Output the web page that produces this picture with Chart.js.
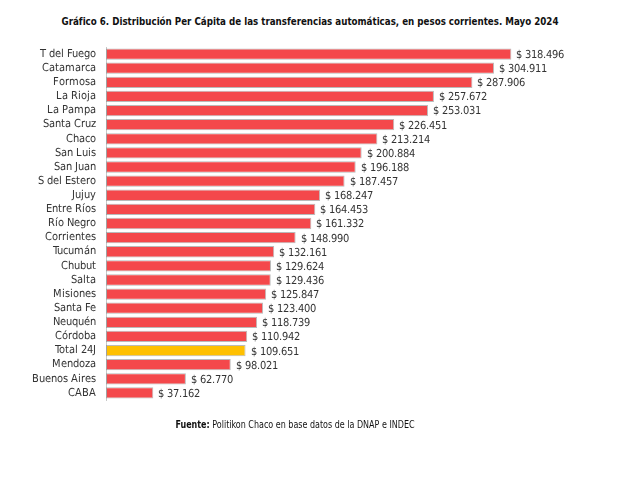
<!DOCTYPE html>
<html lang="es">
<head>
  <meta charset="UTF-8" />
  <title>Gráfico 6. Distribución Per Cápita</title>
  <script src="https://cdn.jsdelivr.net/npm/chart.js"></script>
  <style>
    body {
      margin: 0;
      background: #fff;
      font-family: "DejaVu Sans", sans-serif;
      font-stretch: condensed;
      color: #222;
    }

    .wrap {
      position: relative;
      width: 620px;
      height: 478px;
    }

    .titulo {
      position: absolute;
      top: 15px;
      left: 0;
      width: 620px;
      text-align: center;
      white-space: nowrap;
      font-weight: bold;
      font-size: 11px;
      color: #111;
      transform: scaleX(0.88);
      transform-origin: 310px 0;
    }

    .fuente {
      position: absolute;
      top: 419px;
      left: 0;
      width: 590px;
      text-align: center;
      white-space: nowrap;
      font-size: 10px;
      color: #111;
      transform: scaleX(0.89);
      transform-origin: 295px 0;
    }

    canvas {
      position: absolute;
      top: 0;
      left: 0;
    }
  </style>
</head>
<body>
  <div class="wrap">
    <div class="titulo">Gráfico 6. Distribución Per Cápita de las transferencias automáticas, en pesos corrientes. Mayo 2024</div>
    <canvas id="grafico" width="620" height="478"></canvas>
    <div class="fuente"><b>Fuente:</b> Politikon Chaco en base datos de la DNAP e INDEC</div>
  </div>

  <script>
    const provincias = [
      "T del Fuego", "Catamarca", "Formosa", "La Rioja", "La Pampa", "Santa Cruz",
      "Chaco", "San Luis", "San Juan", "S del Estero", "Jujuy", "Entre Ríos",
      "Río Negro", "Corrientes", "Tucumán", "Chubut", "Salta", "Misiones",
      "Santa Fe", "Neuquén", "Córdoba", "Total 24J", "Mendoza", "Buenos Aires", "CABA"
    ];
    const montos = [
      318496, 304911, 287906, 257672, 253031, 226451,
      213214, 200884, 196188, 187457, 168247, 164453,
      161332, 148990, 132161, 129624, 129436, 125847,
      123400, 118739, 110942, 109651, 98021, 62770, 37162
    ];

    const ROJO = "#f4484b";
    const AMARILLO = "#ffc000";
    const FUENTE = "Angosta, 'DejaVu Sans', sans-serif";

    // formato tipo "$ 318.496"
    function pesos(v) {
      return "$ " + v.toString().replace(/\B(?=(\d{3})+(?!\d))/g, ".");
    }

    const etiquetas = {
      id: "etiquetas",
      afterDatasetsDraw(chart) {
        const ctx = chart.ctx;
        const meta = chart.getDatasetMeta(0);
        ctx.save();
        ctx.font = "11.3px " + FUENTE;
        ctx.fillStyle = "#333";
        ctx.textAlign = "left";
        ctx.textBaseline = "middle";
        meta.data.forEach((bar, i) => {
          ctx.fillText(pesos(montos[i]), bar.x + 5, bar.y + 1);
        });
        ctx.restore();
      }
    };

    function dibujar() {
      new Chart(document.getElementById("grafico"), {
        type: "bar",
        data: {
          labels: provincias,
          datasets: [{
            data: montos,
            backgroundColor: provincias.map(p => p === "Total 24J" ? AMARILLO : ROJO),
            borderColor: "rgba(130,130,130,0.55)",
            borderWidth: 1,
            borderSkipped: false,
            categoryPercentage: 1,
            barPercentage: 0.8
          }]
        },
        options: {
          indexAxis: "y",
          responsive: false,
          animation: false,
          layout: { padding: { top: 47, bottom: 78, left: 10, right: 24 } },
          plugins: {
            legend: { display: false },
            tooltip: { enabled: false }
          },
          scales: {
            x: {
              display: false,
              min: 0,
              max: 385000
            },
            y: {
              afterFit(scale) { scale.width = 96; },
              grid: { display: false, drawTicks: false },
              border: { display: true, color: "#c8c8c8", width: 1 },
              ticks: {
                autoSkip: false,
                padding: 10,
                color: "#333",
                font: { family: FUENTE, size: 10.6 }
              }
            }
          }
        },
        plugins: [etiquetas]
      });
    }

    // fuente condensada local para el canvas
    const angosta = new FontFace("Angosta",
      'local("Liberation Sans Narrow"), local("LiberationSansNarrow"), local("DejaVu Sans Condensed"), local("DejaVuSansCondensed")');
    angosta.load()
      .then(f => { document.fonts.add(f); dibujar(); })
      .catch(() => dibujar());
  </script>
</body>
</html>
